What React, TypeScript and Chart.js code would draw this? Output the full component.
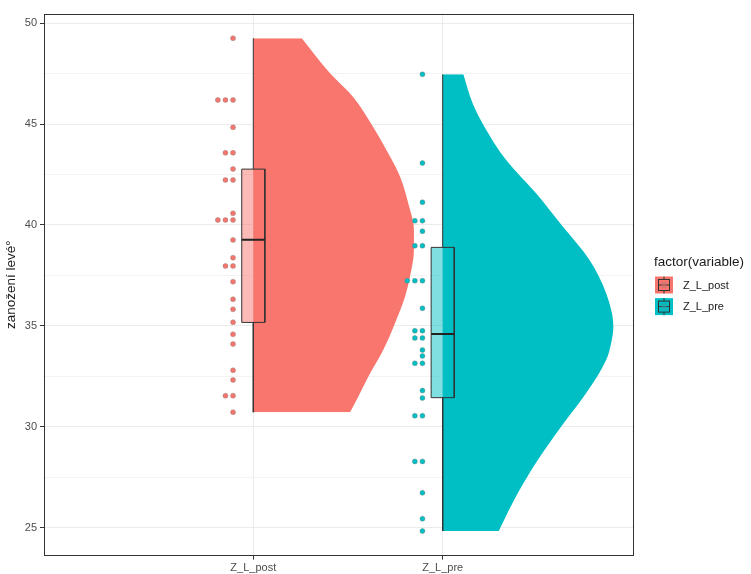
import { useEffect, useRef } from 'react';
import { Chart, registerables } from 'chart.js';

Chart.register(...registerables);

// Categories and palette
const categories = ['Z_L_post', 'Z_L_pre'];
const seriesColors = ['#F8766D', '#00BFC4'];
const seriesFillsHalf = ['rgba(248,118,109,0.5)', 'rgba(0,191,196,0.5)'];
const legendTitle = 'factor(variable)';
const yAxisTitle = 'zanožení levé°';

// Raw observations per category
const postValues = [
  49.26, 46.2, 46.2, 46.2, 44.84, 43.58, 43.58, 42.78, 42.23, 42.23, 40.58, 40.25, 40.25, 40.25,
  39.26, 38.38, 37.97, 37.97, 37.19, 36.32, 35.82, 35.18, 34.58, 34.1, 32.8, 32.32, 31.54, 31.54, 30.72,
];
const preValues = [
  47.47, 43.07, 41.13, 40.21, 40.21, 39.69, 38.97, 38.97, 37.24, 37.24, 37.24, 35.87, 34.76, 34.76,
  34.4, 34.4, 33.8, 33.51, 33.14, 33.14, 31.79, 31.42, 30.54, 30.54, 28.28, 28.28, 26.72, 25.44, 24.83,
];

// Box statistics: [lower whisker, Q1, median, Q3, upper whisker]
const postBox = [30.72, 35.17, 39.27, 42.77, 49.26];
const preBox = [24.83, 31.44, 34.6, 38.89, 47.47];

// Half-violin outlines: density levels (y) and half-widths (in category units)
const postViolinLevels = [30.72, 31.49, 32.48, 33.8, 35.13, 36.44, 37.43, 38.76, 39.75, 41.08, 42.39, 43.39, 44.87, 46.36, 47.52, 49.26];
const postViolinWidths = [0.511, 0.554, 0.607, 0.686, 0.748, 0.801, 0.827, 0.848, 0.848, 0.818, 0.775, 0.722, 0.632, 0.526, 0.405, 0.256];
const preViolinLevels = [24.83, 26.7, 28.35, 30.0, 31.66, 33.31, 34.13, 34.96, 36.61, 38.26, 39.92, 41.57, 43.22, 44.87, 46.03, 47.47];
const preViolinWidths = [0.296, 0.396, 0.502, 0.625, 0.757, 0.863, 0.889, 0.901, 0.863, 0.775, 0.634, 0.493, 0.335, 0.22, 0.158, 0.109];

// Axis ticks
const yMajorTicks = [25, 30, 35, 40, 45, 50];
const yMinorTicks = [27.5, 32.5, 37.5, 42.5, 47.5];

const valuesByCat = [postValues, preValues];
const boxesByCat = [postBox, preBox];
const violinsByCat = [
  { levels: postViolinLevels, widths: postViolinWidths },
  { levels: preViolinLevels, widths: preViolinWidths },
];

const FONT = "'Liberation Sans', Arial, Helvetica, sans-serif";
const INK = '#333333';
const POINT_SHIFT = -0.107;
const POINT_STEP = 0.04;
const BOX_HALF = 0.061;

function buildDatasets(): any[] {
  const sets: any[] = [];
  categories.forEach((_, i) => {
    const c = i + 1;
    const color = seriesColors[i];
    const v = violinsByCat[i];
    const [lo, q1, med, q3, hi] = boxesByCat[i];

    // half violin, filled from the category line to the density outline
    sets.push({
      type: 'line',
      indexAxis: 'y',
      order: 6,
      data: v.levels.map((lvl, k) => ({ x: c + v.widths[k], y: lvl })),
      borderWidth: 0,
      borderColor: 'transparent',
      pointRadius: 0,
      cubicInterpolationMode: 'monotone',
      fill: { value: c },
      backgroundColor: color,
    });

    // observations, repeated values stacked side by side to the left
    const seen = new Map<number, number>();
    const pts = valuesByCat[i].map((val) => {
      const n = seen.get(val) || 0;
      seen.set(val, n + 1);
      return { x: c + POINT_SHIFT - n * POINT_STEP, y: val };
    });
    sets.push({
      type: 'scatter',
      order: 5,
      data: pts,
      pointRadius: 2.5,
      pointBackgroundColor: color,
      pointBorderColor: 'rgba(120,120,120,0.55)',
      pointBorderWidth: 0.7,
    });

    // box body
    sets.push({
      type: 'line',
      indexAxis: 'y',
      order: 4,
      data: [
        { x: c + BOX_HALF, y: q1 },
        { x: c + BOX_HALF, y: q3 },
      ],
      borderWidth: 0,
      borderColor: 'transparent',
      pointRadius: 0,
      fill: { value: c - BOX_HALF },
      backgroundColor: seriesFillsHalf[i],
    });

    // box outline
    sets.push({
      type: 'scatter',
      showLine: true,
      order: 3,
      data: [
        { x: c - BOX_HALF, y: q1 },
        { x: c - BOX_HALF, y: q3 },
        { x: c + BOX_HALF, y: q3 },
        { x: c + BOX_HALF, y: q1 },
        { x: c - BOX_HALF, y: q1 },
      ],
      borderColor: INK,
      borderWidth: 1,
      pointRadius: 0,
      fill: false,
    });

    // whiskers
    [[q3, hi], [q1, lo]].forEach(([a, b]) => {
      sets.push({
        type: 'scatter',
        showLine: true,
        order: 3,
        data: [
          { x: c, y: a },
          { x: c, y: b },
        ],
        borderColor: INK,
        borderWidth: 1,
        pointRadius: 0,
        fill: false,
      });
    });

    // median
    sets.push({
      type: 'scatter',
      showLine: true,
      order: 2,
      data: [
        { x: c - BOX_HALF, y: med },
        { x: c + BOX_HALF, y: med },
      ],
      borderColor: '#222222',
      borderWidth: 2,
      pointRadius: 0,
      fill: false,
    });
  });
  return sets;
}

// Frame around the plotting panel
const panelBorder = {
  id: 'panelBorder',
  afterDatasetsDraw(chart: any) {
    const { ctx, chartArea } = chart;
    ctx.save();
    ctx.strokeStyle = INK;
    ctx.lineWidth = 1;
    const l = Math.round(chartArea.left) + 0.5;
    const t = Math.round(chartArea.top) + 0.5;
    const r = Math.round(chartArea.right) - 0.5;
    const b = Math.round(chartArea.bottom) - 0.5;
    ctx.strokeRect(l, t, r - l, b - t);
    ctx.restore();
  },
};

// Fill legend with boxplot glyphs
const fillLegend = {
  id: 'fillLegend',
  afterDraw(chart: any) {
    const { ctx, chartArea } = chart;
    const x0 = chartArea.right + 20;
    ctx.save();
    ctx.fillStyle = '#1a1a1a';
    ctx.textAlign = 'left';
    ctx.textBaseline = 'middle';
    ctx.font = `13.5px ${FONT}`;
    ctx.fillText(legendTitle, x0, 262);
    categories.forEach((name, i) => {
      const kx = x0 + 1;
      const ky = 276.5 + i * 21.6;
      const kw = 18;
      const kh = 17;
      const cx = kx + kw / 2;
      const cy = ky + kh / 2;
      ctx.fillStyle = seriesColors[i];
      ctx.fillRect(kx, ky, kw, kh);
      ctx.strokeStyle = INK;
      ctx.lineWidth = 1;
      ctx.beginPath();
      ctx.moveTo(cx, ky);
      ctx.lineTo(cx, ky + 3);
      ctx.moveTo(cx, ky + kh - 3);
      ctx.lineTo(cx, ky + kh);
      ctx.stroke();
      ctx.strokeRect(kx + 3.5, ky + 3, kw - 7, kh - 6);
      ctx.beginPath();
      ctx.moveTo(kx + 3.5, cy);
      ctx.lineTo(kx + kw - 3.5, cy);
      ctx.stroke();
      ctx.beginPath();
      ctx.arc(cx, cy, 2.3, 0, Math.PI * 2);
      ctx.fillStyle = seriesFillsHalf[i];
      ctx.fill();
      ctx.strokeStyle = 'rgba(120,120,120,0.7)';
      ctx.lineWidth = 0.7;
      ctx.stroke();
      ctx.fillStyle = '#1a1a1a';
      ctx.font = `11px ${FONT}`;
      ctx.fillText(name, x0 + 29, cy + 0.5);
    });
    ctx.restore();
  },
};

export default function App() {
  const canvasRef = useRef<HTMLCanvasElement>(null);

  useEffect(() => {
    const canvas = canvasRef.current;
    if (!canvas) return;
    Chart.defaults.font.family = FONT;
    const isMajor = (v: number) => yMajorTicks.includes(v);

    const chart = new Chart(canvas, {
      type: 'scatter',
      data: { datasets: buildDatasets() },
      options: {
        responsive: false,
        animation: false,
        devicePixelRatio: 1,
        events: [],
        layout: { padding: { top: 13.6, right: 117, left: 0, bottom: 0 } },
        plugins: {
          legend: { display: false },
          tooltip: { enabled: false },
        },
        scales: {
          x: {
            type: 'linear',
            min: -0.105,
            max: 3.01,
            afterBuildTicks: (scale: any) => {
              scale.ticks = categories.map((_, i) => ({ value: i + 1 }));
            },
            afterFit: (scale: any) => {
              scale.height = 18.4;
            },
            ticks: {
              autoSkip: false,
              maxRotation: 0,
              padding: 2,
              color: '#4d4d4d',
              font: { size: 11 },
              callback: (_v: any, index: number) => categories[index],
            },
            grid: {
              color: '#ebebeb',
              lineWidth: 1,
              tickLength: 4,
              tickColor: INK,
              tickWidth: 1,
            },
            border: { display: false },
          },
          y: {
            type: 'linear',
            min: 23.61,
            max: 50.48,
            afterBuildTicks: (scale: any) => {
              scale.ticks = [...yMajorTicks, ...yMinorTicks]
                .sort((a, b) => a - b)
                .map((value) => ({ value }));
            },
            afterFit: (scale: any) => {
              scale.width = 44;
            },
            ticks: {
              autoSkip: false,
              padding: 3,
              color: '#4d4d4d',
              font: { size: 11 },
              callback: (v: any) => (isMajor(Number(v)) ? String(v) : ''),
            },
            grid: {
              color: (ctx: any) => (isMajor(ctx.tick?.value) ? '#ebebeb' : '#f3f3f3'),
              lineWidth: 1,
              tickLength: 4,
              tickColor: (ctx: any) => (isMajor(ctx.tick?.value) ? INK : 'rgba(0,0,0,0)'),
              tickWidth: 1,
            },
            border: { display: false },
            title: {
              display: true,
              text: yAxisTitle,
              color: '#1a1a1a',
              font: { size: 13.5 },
              padding: { top: 3.5, bottom: 0 },
            },
          },
        },
      },
      plugins: [panelBorder, fillLegend],
    } as any);

    return () => chart.destroy();
  }, []);

  return (
    <div style={{ position: 'fixed', left: 0, top: 0, width: 751, height: 574, background: '#ffffff' }}>
      <canvas ref={canvasRef} width={751} height={574} style={{ width: 751, height: 574, display: 'block' }} />
    </div>
  );
}
